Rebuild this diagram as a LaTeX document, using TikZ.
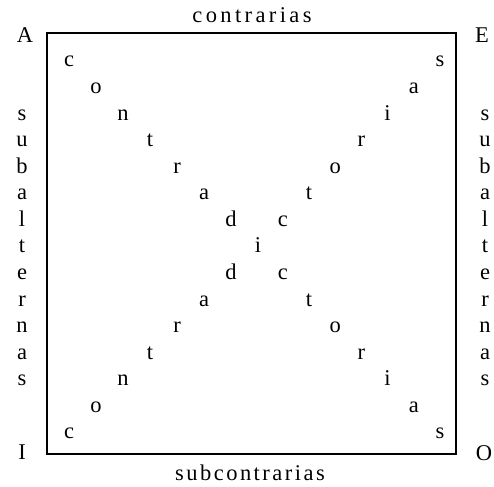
\documentclass[tikz,border=0pt]{standalone}
\usepackage{fontspec}
\setmainfont{Liberation Serif}
\begin{document}
\begin{tikzpicture}[x=1pt,y=-1pt,
  lt/.style={font=\fontsize{22.5}{22.5}\selectfont, inner sep=0pt, anchor=base},
  frame/.style={draw, line width=1.2pt, inner sep=0pt}]
\useasboundingbox (0,0) rectangle (494,486);
\node[frame, minimum width=409pt, minimum height=421pt] (box) at (251.5,243.5) {};
% diagonals
\foreach \ch [count=\k] in {c,o,n,t,r,a,d}
  \node[lt] (TL\k) at ({69+27*(\k-1)},{67+26.57*(\k-1)}) {\ch};
\foreach \ch [count=\k] in {c,o,n,t,r,a,d}
  \node[lt] (BL\k) at ({69+27*(\k-1)},{67+26.57*(15-\k)}) {\ch};
\foreach \ch [count=\k] in {s,a,i,r,o,t,c}
  \node[lt] (TR\k) at ({440-26.2*(\k-1)},{67+26.57*(\k-1)}) {\ch};
\foreach \ch [count=\k] in {s,a,i,r,o,t,c}
  \node[lt] (BR\k) at ({440-26.2*(\k-1)},{67+26.57*(15-\k)}) {\ch};
\node[lt] (mid) at (258,{67+26.57*7}) {i};
% side columns
\foreach \ch [count=\k] in {s,u,b,a,l,t,e,r,n,a,s}
  \node[lt] (SL\k) at (22,{67+26.57*(\k+1)}) {\ch};
\foreach \ch [count=\k] in {s,u,b,a,l,t,e,r,n,a,s}
  \node[lt] (SR\k) at (485,{67+26.57*(\k+1)}) {\ch};
% corners
\node[lt] (A) at (25,43) {A};
\node[lt] (E) at (482,43) {E};
\node[lt] (I) at (22,459) {I};
\node[lt] (O) at (484,460) {O};
% top and bottom labels
\node[lt] (contr) at (252,23) {\addfontfeature{LetterSpace=15}contrarias};
\node[lt] (subc) at (250,480) {\addfontfeature{LetterSpace=11}subcontrarias};
\end{tikzpicture}
\end{document}
